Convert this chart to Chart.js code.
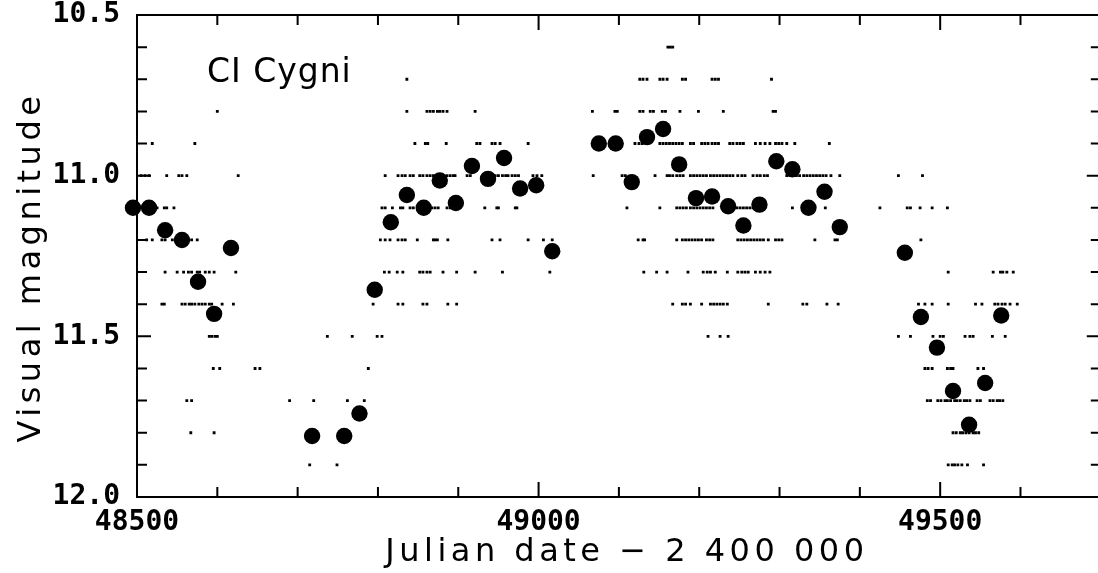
<!DOCTYPE html>
<html>
<head>
<meta charset="utf-8">
<script src="https://cdn.jsdelivr.net/npm/chart.js@4.4.1/dist/chart.umd.min.js"></script>
<style>
html, body { margin: 0; padding: 0; overflow: hidden; background: #fff; }
</style>
</head>
<body>
<canvas id="lc" width="1109" height="573"></canvas>
<script>
// 20-day means (big dots)
const meanJD = [48495, 48515, 48535, 48556, 48576, 48596, 48617, 48718, 48758, 48777,
  48796, 48816, 48836, 48857, 48877, 48897, 48917, 48937, 48957, 48977, 48997, 49017,
  49075, 49096, 49116, 49135, 49155, 49175, 49196, 49216, 49236, 49255, 49275, 49296,
  49316, 49336, 49356, 49375, 49456, 49476, 49496, 49516, 49536, 49556, 49576];
const meanMag = [11.10, 11.10, 11.17, 11.20, 11.33, 11.43, 11.225, 11.81, 11.81, 11.74,
  11.355, 11.145, 11.06, 11.10, 11.015, 11.085, 10.97, 11.01, 10.945, 11.04, 11.03, 11.235,
  10.90, 10.90, 11.02, 10.88, 10.855, 10.965, 11.07, 11.065, 11.095, 11.155, 11.09, 10.955,
  10.98, 11.10, 11.05, 11.16, 11.24, 11.44, 11.535, 11.67, 11.775, 11.645, 11.435];

// single visual estimates, one array per magnitude step
const obs106 = [49161, 49164, 49167];
const obs107 = [48836, 49126, 49130, 49135, 49151, 49155, 49160, 49179, 49183, 49216, 49220, 49224, 49290];
const obs108 = [48600, 48836, 48861, 48865, 48869, 48874, 48877, 48881, 48886, 48921, 49067, 49095, 49098,
  49126, 49130, 49139, 49143, 49154, 49158, 49176, 49199, 49230, 49292, 49295];
const obs109 = [48519, 48572, 48846, 48859, 48862, 48885, 48923, 48927, 48942, 48946, 48952, 48987, 49120,
  49125, 49129, 49151, 49155, 49159, 49163, 49167, 49171, 49175, 49179, 49189, 49193, 49203, 49207, 49211,
  49216, 49220, 49224, 49238, 49242, 49247, 49251, 49255, 49270, 49276, 49282, 49288, 49295, 49299, 49303,
  49309, 49319, 49362];
const obs110 = [48505, 48510, 48515, 48537, 48552, 48556, 48562, 48626, 48809, 48825, 48830, 48834, 48840,
  48844, 48852, 48856, 48861, 48865, 48869, 48874, 48877, 48881, 48886, 48890, 48894, 48896, 48911, 48915,
  48933, 48937, 48942, 48946, 48950, 48955, 48959, 48962, 48967, 48971, 48975, 48993, 48998, 49004, 49068,
  49104, 49108, 49145, 49160, 49163, 49167, 49172, 49176, 49180, 49189, 49193, 49197, 49201, 49205, 49209,
  49214, 49218, 49222, 49226, 49230, 49234, 49238, 49242, 49248, 49253, 49257, 49267, 49272, 49276, 49281,
  49285, 49309, 49313, 49317, 49321, 49325, 49330, 49334, 49338, 49342, 49346, 49350, 49354, 49358, 49364,
  49375, 49448, 49478];
const obs111 = [48520, 48525, 48534, 48537, 48546, 48805, 48809, 48818, 48828, 48831, 48840, 48844, 48862,
  48867, 48871, 48875, 48886, 48890, 48933, 48948, 48950, 48971, 48973, 49110, 49151, 49172, 49176, 49180,
  49184, 49189, 49193, 49197, 49201, 49205, 49209, 49213, 49217, 49247, 49251, 49255, 49259, 49263, 49267,
  49316, 49357, 49425, 49459, 49463, 49475, 49490, 49509];
const obs112 = [48512, 48519, 48531, 48535, 48544, 48552, 48560, 48568, 48575, 48803, 48809, 48815, 48825,
  48830, 48834, 48849, 48869, 48871, 48874, 48887, 48942, 48952, 48987, 49006, 49017, 49124, 49130, 49132,
  49172, 49179, 49183, 49187, 49191, 49195, 49199, 49203, 49209, 49213, 49217, 49248, 49252, 49256, 49260,
  49264, 49268, 49272, 49276, 49280, 49286, 49295, 49299, 49303, 49344, 49369, 49372, 49476];
const obs113 = [48535, 48550, 48558, 48564, 48568, 48575, 48578, 48585, 48590, 48596, 48623, 48808, 48814,
  48824, 48831, 48852, 48856, 48861, 48865, 48881, 48898, 48921, 48955, 49014, 49131, 49147, 49160, 49186,
  49205, 49210, 49214, 49220, 49235, 49248, 49253, 49257, 49261, 49270, 49276, 49282, 49288, 49510, 49566,
  49575, 49578, 49583, 49591];
const obs114 = [48531, 48534, 48556, 48560, 48565, 48568, 48572, 48577, 48581, 48585, 48590, 48593, 48606,
  48620, 48794, 48825, 48831, 48856, 48861, 48887, 48898, 49167, 49179, 49183, 49189, 49203, 49214, 49218,
  49222, 49226, 49230, 49235, 49286, 49329, 49334, 49359, 49373, 49473, 49481, 49490, 49510, 49544, 49552,
  49568, 49572, 49577, 49581, 49587, 49596];
const obs115 = [48590, 48593, 48597, 48600, 48737, 48768, 48799, 48805, 49211, 49226, 49236, 49448, 49463,
  49491, 49500, 49504, 49531, 49537, 49541, 49565, 49581];
const obs116 = [48595, 48603, 48647, 48653, 48788, 49481, 49485, 49490, 49509, 49513, 49516, 49547, 49554];
const obs117 = [48562, 48568, 48690, 48720, 48762, 48783, 49484, 49488, 49497, 49501, 49506, 49509, 49513,
  49518, 49521, 49525, 49530, 49533, 49537, 49546, 49550, 49562, 49566, 49571, 49574, 49578];
const obs118 = [48567, 48596, 49516, 49520, 49525, 49528, 49532, 49536, 49541, 49544, 49548];
const obs119 = [48715, 48749, 49510, 49515, 49518, 49522, 49527, 49534, 49554];

const obsLevels = [10.6, 10.7, 10.8, 10.9, 11.0, 11.1, 11.2, 11.3, 11.4, 11.5, 11.6, 11.7, 11.8, 11.9];
const obsLists = [obs106, obs107, obs108, obs109, obs110, obs111, obs112, obs113, obs114, obs115,
  obs116, obs117, obs118, obs119];

const xLabels = [48500, 49000, 49500];
const yLabels = [10.5, 11.0, 11.5, 12.0];
const xTitle = 'Julian date \u2212 2 400 000';
const yTitle = 'Visual magnitude';
const starName = 'CI Cygni';

let obsPoints = [];
obsLists.forEach((list, i) => {
  list.forEach(jd => obsPoints.push({x: jd, y: obsLevels[i]}));
});
let meanPoints = meanJD.map((jd, i) => ({x: jd, y: meanMag[i]}));

// frame, inward ticks and the text around the plot
const frame = {
  id: 'frame',
  afterDatasetsDraw(chart) {
    const {ctx, chartArea: a, scales: {x, y}} = chart;
    ctx.save();
    ctx.strokeStyle = '#000';
    ctx.lineWidth = 2;
    ctx.strokeRect(a.left, a.top, a.right - a.left, a.bottom - a.top);
    ctx.beginPath();
    x.ticks.forEach(t => {
      const px = x.getPixelForValue(t.value);
      const len = xLabels.includes(Math.round(t.value)) ? 15 : 10;
      ctx.moveTo(px, a.bottom); ctx.lineTo(px, a.bottom - len);
      ctx.moveTo(px, a.top); ctx.lineTo(px, a.top + len);
    });
    y.ticks.forEach(t => {
      const py = y.getPixelForValue(t.value);
      const len = yLabels.includes(Math.round(t.value * 10) / 10) ? 14 : 10;
      ctx.moveTo(a.left, py); ctx.lineTo(a.left + len, py);
      ctx.moveTo(a.right, py); ctx.lineTo(a.right - len, py);
    });
    ctx.stroke();

    ctx.fillStyle = '#000';
    ctx.font = '32px "DejaVu Sans"';
    ctx.letterSpacing = '4.5px';
    ctx.textAlign = 'center';
    ctx.textBaseline = 'middle';
    ctx.fillText(xTitle, (a.left + a.right) / 2 + 8, 553);
    ctx.translate(32, 267);
    ctx.rotate(-Math.PI / 2);
    ctx.fillText(yTitle, 0, 0);
    ctx.restore();

    ctx.save();
    ctx.fillStyle = '#000';
    ctx.font = '33px "DejaVu Sans"';
    ctx.letterSpacing = '1px';
    ctx.textAlign = 'left';
    ctx.textBaseline = 'alphabetic';
    ctx.fillText(starName, x.getPixelForValue(48587), y.getPixelForValue(10.71));
    ctx.restore();
  }
};

const tickFont = {family: '"DejaVu Sans Mono"', size: 28, weight: 'bold'};

new Chart(document.getElementById('lc'), {
  type: 'scatter',
  data: {
    datasets: [{
      data: obsPoints,
      pointStyle: 'rect',
      pointRadius: 2,
      backgroundColor: '#000',
      borderWidth: 0
    }, {
      data: meanPoints,
      pointStyle: 'circle',
      pointRadius: 8.2,
      backgroundColor: '#000',
      borderWidth: 0,
      clip: false
    }]
  },
  options: {
    responsive: false,
    animation: false,
    devicePixelRatio: 1,
    layout: {padding: {top: 15, right: 2, left: 0, bottom: 0}},
    plugins: {legend: {display: false}, tooltip: {enabled: false}},
    scales: {
      x: {
        type: 'linear',
        position: 'bottom',
        min: 48500,
        max: 49700,
        grid: {display: false, drawTicks: false},
        border: {display: false},
        afterFit(s) { s.height = 76; s.paddingLeft = 0; s.paddingRight = 0; },
        ticks: {
          stepSize: 100,
          autoSkip: false,
          maxRotation: 0,
          padding: 9,
          color: '#000',
          font: tickFont,
          callback: v => xLabels.includes(Math.round(v)) ? String(Math.round(v)) : ''
        }
      },
      y: {
        type: 'linear',
        reverse: true,
        min: 10.5,
        max: 12.0,
        grid: {display: false, drawTicks: false},
        border: {display: false},
        afterFit(s) { s.width = 137; s.paddingTop = 0; s.paddingBottom = 0; },
        ticks: {
          stepSize: 0.1,
          autoSkip: false,
          padding: 17,
          color: '#000',
          font: tickFont,
          callback: v => yLabels.includes(Math.round(v * 10) / 10) ? v.toFixed(1) : ''
        }
      }
    }
  },
  plugins: [frame]
});
</script>
</body>
</html>
